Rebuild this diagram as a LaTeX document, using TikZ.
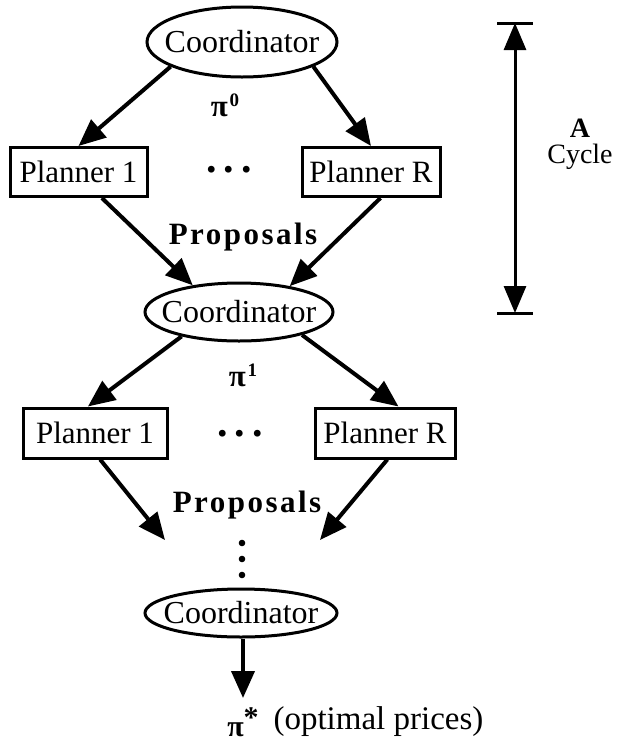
\documentclass[tikz,border=0pt]{standalone}
\usepackage{fontspec}
\setmainfont{Liberation Serif}
\usetikzlibrary{shapes.geometric,arrows.meta,calc}

% superscript used after pi in the price labels
\newcommand{\pricesup}[1]{\hspace{2pt}\raisebox{10pt}{\fontsize{19}{19}\selectfont #1}}
% spaced ellipsis between planners
\newcommand{\wideellipsis}{.\hspace{7pt}.\hspace{7pt}.}

\begin{document}
\begin{tikzpicture}[x=1pt,y=-1pt,
  coord/.style={ellipse, draw, line width=3pt, inner sep=0pt,
    font=\fontsize{32}{32}\selectfont},
  planner/.style={rectangle, draw, line width=3pt, inner sep=0pt,
    font=\fontsize{31}{31}\selectfont},
  flow/.style={line width=4pt, -{Triangle[length=27pt,width=23pt]}},
  lbl/.style={font=\bfseries\fontsize{31}{31}\selectfont},
  dotsty/.style={font=\bfseries\fontsize{42}{42}\selectfont},
]
\useasboundingbox (0,0) rectangle (619,748);

% coordinators
\node[coord, minimum width=190pt, minimum height=70pt] (C1) at (242,42) {\makebox[0pt]{Coordinator}};
\node[coord, minimum width=188pt, minimum height=58pt] (C2) at (239,312) {\makebox[0pt]{Coordinator}};
\node[coord, minimum width=192pt, minimum height=48pt] (C3) at (241,613) {\makebox[0pt]{Coordinator}};

% planners
\node[planner, minimum width=137pt, minimum height=49pt] (P1a) at (78.5,172) {Planner 1};
\node[planner, minimum width=138pt, minimum height=49pt] (PRa) at (371,172) {Planner R};
\node[planner, minimum width=144pt, minimum height=50pt] (P1b) at (95,433) {Planner 1};
\node[planner, minimum width=140pt, minimum height=50pt] (PRb) at (385,433) {Planner R};

% ellipsis between planners
\node[dotsty] (dotsA) at (229,170) {\wideellipsis};
\node[dotsty] (dotsB) at (240,434) {\wideellipsis};

% labels
\node[lbl] (pi0) at (225,105) {π\pricesup{0}};
\node[lbl] (prop1) at (243,237) {\addfontfeatures{LetterSpace=8}Proposals};
\node[lbl] (pi1) at (243,375) {π\pricesup{1}};
\node[lbl] (prop2) at (247,505) {\addfontfeatures{LetterSpace=8}Proposals};
\node[font=\bfseries\fontsize{30}{30}\selectfont] (pistar) at (243,722) {π\raisebox{9pt}{*}};
\node[font=\fontsize{33}{33}\selectfont, anchor=west] (opt) at (270,722) {(optimal prices)};

% free arrow ends
\coordinate (tipL) at (165,540);
\coordinate (tipR) at (320,540);
\coordinate (piout) at (243,698);

% flow of prices and proposals
\draw[flow] (C1.199) -- (P1a.north);
\draw[flow] (C1.-19) -- (PRa.north);
\draw[flow] (P1a.-48) -- (C2.150);
\draw[flow] (PRa.-70) -- (C2.27);
\draw[flow] (C2.203) -- (P1b.105);
\draw[flow] (C2.-20) -- (PRb.63);
\draw[flow] (P1b.-79) -- (tipL);
\draw[flow] (PRb.-85) -- (tipR);
\draw[flow] (C3.south -| piout) -- (piout);

% vertical continuation dots
\fill (242,543) circle (3.3pt);
\fill (242,559) circle (3.3pt);
\fill (242,575) circle (3.3pt);

% cycle span marker
\coordinate (ctop) at (515,23);
\coordinate (cbot) at (515,313);
\draw[line width=3pt, {Triangle[length=27pt,width=22pt]}-{Triangle[length=27pt,width=22pt]}] (ctop) -- (cbot);
\draw[line width=3pt] ($(ctop)+(-18,0)$) -- ($(ctop)+(18,0)$);
\draw[line width=3pt] ($(cbot)+(-18,0)$) -- ($(cbot)+(18,0)$);
\node[font=\bfseries\fontsize{28}{28}\selectfont] (cycA) at (580,128) {A};
\node[font=\fontsize{28}{28}\selectfont] (cycB) at (580,157) {Cycle};
\end{tikzpicture}
\end{document}
